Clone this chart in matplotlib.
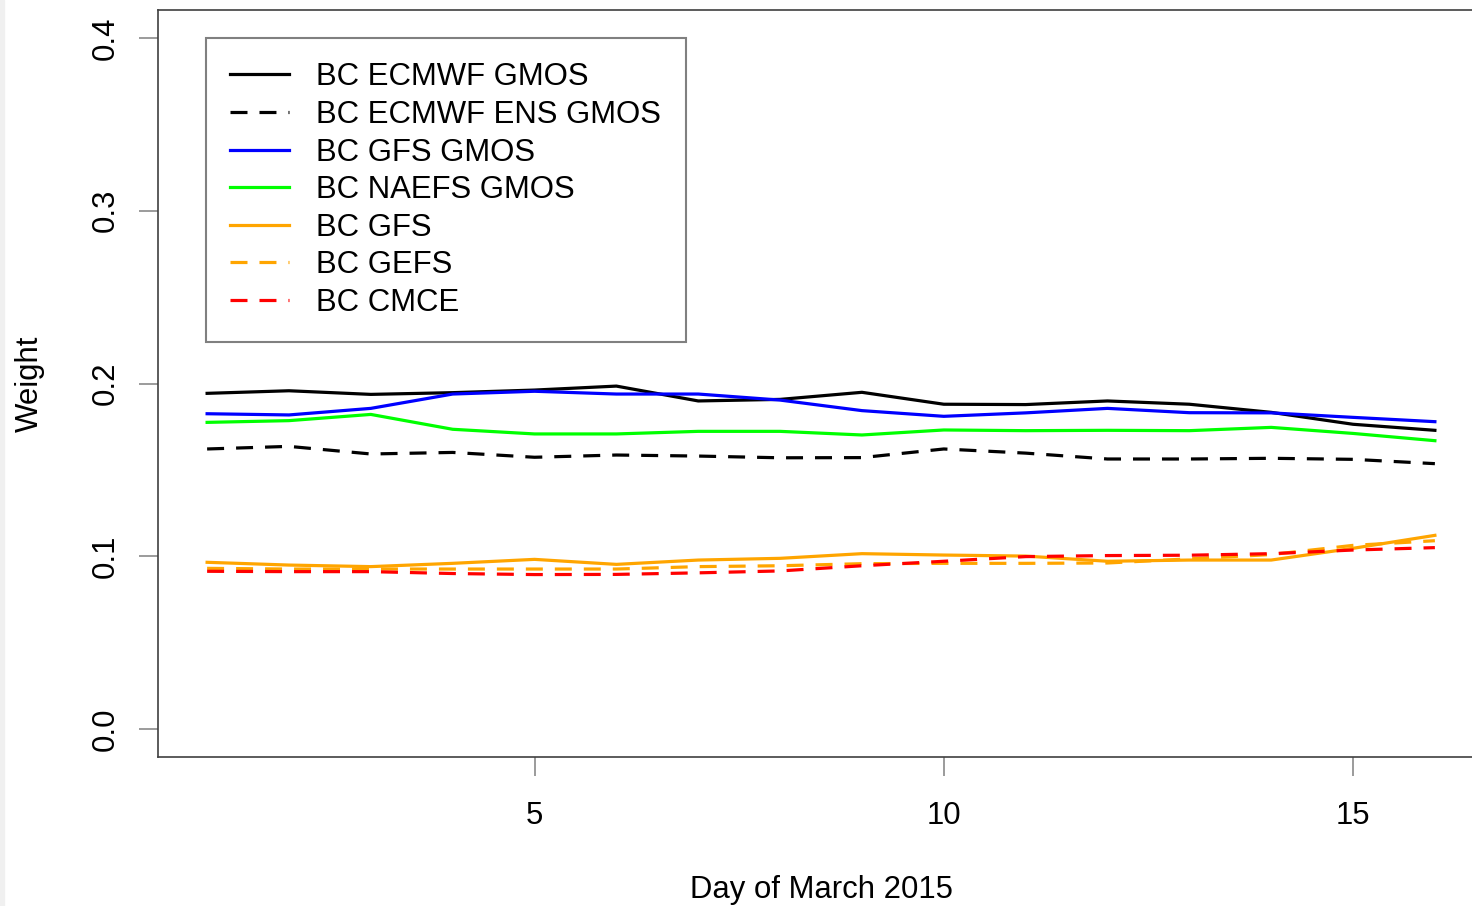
import matplotlib
matplotlib.use("Agg")
import matplotlib.pyplot as plt
from matplotlib.patches import Rectangle

plt.rcParams['font.family'] = ['Liberation Sans', 'DejaVu Sans']

days = [1, 2, 3, 4, 5, 6, 7, 8, 9, 10, 11, 12, 13, 14, 15, 16]

ecmwf_gmos = [0.1943, 0.1958, 0.1937, 0.1947, 0.1962, 0.1985, 0.1899, 0.1908,
              0.1949, 0.1880, 0.1878, 0.1899, 0.1880, 0.1833, 0.1764, 0.1729]
ecmwf_ens_gmos = [0.1621, 0.1636, 0.1592, 0.1601, 0.1573, 0.1586, 0.1580, 0.1570,
                  0.1571, 0.1621, 0.1597, 0.1563, 0.1563, 0.1567, 0.1561, 0.1536]
gfs_gmos = [0.1825, 0.1818, 0.1856, 0.1939, 0.1955, 0.1939, 0.1939, 0.1904,
            0.1843, 0.1810, 0.1830, 0.1856, 0.1831, 0.1830, 0.1804, 0.1779]
naefs_gmos = [0.1775, 0.1785, 0.1821, 0.1735, 0.1708, 0.1708, 0.1723, 0.1723,
              0.1702, 0.1731, 0.1727, 0.1729, 0.1727, 0.1746, 0.1711, 0.1669]
gfs = [0.0965, 0.0949, 0.0940, 0.0959, 0.0982, 0.0953, 0.0978, 0.0988,
       0.1015, 0.1007, 0.1001, 0.0971, 0.0978, 0.0978, 0.1046, 0.1121]
gefs = [0.0930, 0.0926, 0.0926, 0.0926, 0.0926, 0.0926, 0.0940, 0.0945,
        0.0957, 0.0959, 0.0959, 0.0961, 0.0985, 0.1010, 0.1063, 0.1090]
cmce = [0.0913, 0.0911, 0.0911, 0.0900, 0.0894, 0.0895, 0.0904, 0.0915,
        0.0945, 0.0971, 0.0998, 0.1004, 0.1006, 0.1015, 0.1036, 0.1050]

series = [
    ("BC ECMWF GMOS", ecmwf_gmos, "black", "solid"),
    ("BC ECMWF ENS GMOS", ecmwf_ens_gmos, "black", "dashed"),
    ("BC GFS GMOS", gfs_gmos, "#0000ff", "solid"),
    ("BC NAEFS GMOS", naefs_gmos, "#00ff00", "solid"),
    ("BC GFS", gfs, "#ffa500", "solid"),
    ("BC GEFS", gefs, "#ffa500", "dashed"),
    ("BC CMCE", cmce, "#ff0000", "dashed"),
]

W, H = 1472, 906
fs = 22.4
fig = plt.figure(figsize=(W / 100, H / 100), dpi=100)
fig.patches.append(Rectangle((0, 0), 4 / W, 1, transform=fig.transFigure,
                             color="#f0f0f0", zorder=0))

ax = fig.add_axes([158 / W, (H - 757) / H, (1484 - 158) / W, (757 - 10) / H])

lw = 2.3
for name, vals, col, ls in series:
    if ls == "dashed":
        ax.plot(days, vals, color=col, lw=lw, label=name,
                dashes=(17 / 1.39 / lw, 12 / 1.39 / lw))
    else:
        ax.plot(days, vals, color=col, lw=lw, label=name)

ax.set_xlim(0.4, 16.6)
ax.set_ylim(-0.0162, 0.4162)
ax.set_xticks([5, 10, 15])
ax.set_yticks([0.0, 0.1, 0.2, 0.3, 0.4])
ax.set_yticklabels(["0.0", "0.1", "0.2", "0.3", "0.4"], rotation=90, va="center")

for s in ["left", "bottom", "top"]:
    ax.spines[s].set_color("#404040")
    ax.spines[s].set_linewidth(1.2)
ax.spines["right"].set_visible(False)

ax.tick_params(direction="out", length=13.7, width=1.1, color="#808080",
               labelsize=fs)
ax.tick_params(axis="x", pad=18)
ax.tick_params(axis="y", pad=13)

ax.set_xlabel("Day of March 2015", fontsize=fs, labelpad=32)
ax.set_ylabel("Weight", fontsize=fs, labelpad=33)

leg = ax.legend(loc="upper left", bbox_to_anchor=(206 / W, 1 - 38 / H),
                bbox_transform=fig.transFigure, fontsize=fs,
                handlelength=1.9, handletextpad=0.87, borderpad=0.78,
                labelspacing=0.245, fancybox=False, framealpha=1,
                borderaxespad=0)
leg.get_frame().set_edgecolor("#808080")
leg.get_frame().set_linewidth(1.5)

fig.savefig("out.png", dpi=100)
